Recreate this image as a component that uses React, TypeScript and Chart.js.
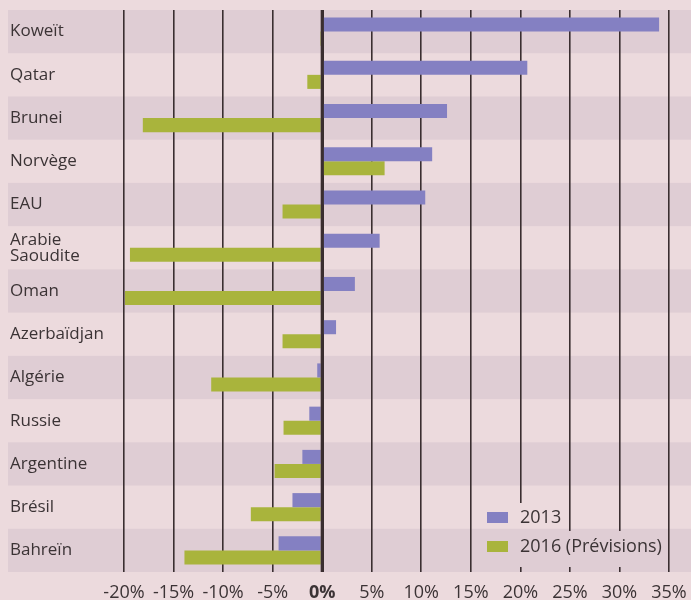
import React, { useEffect, useRef } from "react";
import { Chart, registerables } from "chart.js";

Chart.register(...registerables);

const categories: (string | string[])[] = [
  "Koweït",
  "Qatar",
  "Brunei",
  "Norvège",
  "EAU",
  ["Arabie", "Saoudite"],
  "Oman",
  "Azerbaïdjan",
  "Algérie",
  "Russie",
  "Argentine",
  "Brésil",
  "Bahreïn",
];

const values2013 = [34.0, 20.7, 12.6, 11.1, 10.4, 5.8, 3.3, 1.4, -0.5, -1.3, -2.0, -3.0, -4.4];
const values2016 = [-0.2, -1.5, -18.1, 6.3, -4.0, -19.4, -19.9, -4.0, -11.2, -3.9, -4.8, -7.2, -13.9];

const seriesLabels = ["2013", "2016 (Prévisions)"];
const xTickMin = -20;
const xTickMax = 35;
const xTickStep = 5;

const COLORS = {
  bg: "#ecdadd",
  band: "#dfcdd4",
  blue: "#8480c2",
  green: "#a9b43c",
  grid: "#3a2e30",
  text: "#3b3335",
};
const FONT = "'Open Sans', 'Noto Sans', sans-serif";

function drawBands(chart: any, ctx: CanvasRenderingContext2D) {
  const { chartArea } = chart;
  const n = categories.length;
  const rowH = (chartArea.bottom - chartArea.top) / n;
  for (let i = 0; i < n; i += 2) {
    const y0 = chartArea.top + i * rowH;
    ctx.fillStyle = COLORS.band;
    ctx.fillRect(8, y0, chart.width - 8, rowH);
  }
}

const bandsPlugin = {
  id: "bands",
  beforeDraw(chart: any) {
    const ctx = chart.ctx as CanvasRenderingContext2D;
    ctx.save();
    ctx.fillStyle = COLORS.bg;
    ctx.fillRect(0, 0, chart.width, chart.height);
    drawBands(chart, ctx);
    ctx.restore();
  },
};

const zeroLinePlugin = {
  id: "zeroLine",
  afterDatasetsDraw(chart: any) {
    const ctx = chart.ctx as CanvasRenderingContext2D;
    const x = chart.scales.x.getPixelForValue(0);
    const { top, bottom } = chart.chartArea;
    ctx.save();
    ctx.strokeStyle = COLORS.grid;
    ctx.lineWidth = 3;
    ctx.beginPath();
    ctx.moveTo(x, top);
    ctx.lineTo(x, bottom);
    ctx.stroke();
    ctx.restore();
  },
};

const legendPlugin = {
  id: "customLegend",
  afterDraw(chart: any) {
    const ctx = chart.ctx as CanvasRenderingContext2D;
    const { right, bottom } = chart.chartArea;
    const boxX = right - 182;
    const textX = right - 149;
    const items = [
      { label: chart.data.datasets[0].label, color: chart.data.datasets[0].backgroundColor, cy: bottom - 54, patch: [right - 189, bottom - 69, 83, 28] },
      { label: chart.data.datasets[1].label, color: chart.data.datasets[1].backgroundColor, cy: bottom - 25, patch: [right - 189, bottom - 41, 184, 36] },
    ];
    ctx.save();
    ctx.beginPath();
    items.forEach((it) => ctx.rect(it.patch[0], it.patch[1], it.patch[2], it.patch[3]));
    ctx.clip();
    ctx.fillStyle = COLORS.bg;
    ctx.fillRect(0, 0, chart.width, chart.height);
    drawBands(chart, ctx);
    ctx.restore();

    ctx.save();
    ctx.font = `18px ${FONT}`;
    ctx.textBaseline = "middle";
    ctx.textAlign = "left";
    items.forEach((it) => {
      ctx.fillStyle = it.color;
      ctx.fillRect(boxX, it.cy - 6, 21, 11);
      ctx.fillStyle = COLORS.text;
      ctx.fillText(it.label, textX, it.cy);
    });
    ctx.restore();
  },
};

export default function App() {
  const canvasRef = useRef<HTMLCanvasElement | null>(null);

  useEffect(() => {
    document.body.style.margin = "0";
    const canvas = canvasRef.current;
    if (!canvas) return;
    const chart = new Chart(canvas, {
      type: "bar",
      data: {
        labels: categories,
        datasets: [
          { label: seriesLabels[0], data: values2013, backgroundColor: COLORS.blue, categoryPercentage: 0.65, barPercentage: 1.0 },
          { label: seriesLabels[1], data: values2016, backgroundColor: COLORS.green, categoryPercentage: 0.65, barPercentage: 1.0 },
        ],
      },
      options: {
        indexAxis: "y",
        animation: false,
        responsive: false,
        devicePixelRatio: 1,
        layout: { padding: { left: 10, top: 10, right: 22, bottom: 0 } },
        plugins: {
          legend: { display: false },
          tooltip: { enabled: false },
        },
        scales: {
          x: {
            type: "linear",
            min: xTickMin,
            max: xTickMax,
            afterFit: (scale: any) => {
              scale.height = 28;
              scale.paddingLeft = 0;
              scale.paddingRight = 0;
            },
            ticks: {
              stepSize: xTickStep,
              padding: 10,
              color: COLORS.text,
              font: (c: any) => ({
                family: FONT,
                size: 18,
                weight: c.tick && c.tick.value === 0 ? "bold" : "normal",
              }),
              callback: (v: any) => `${v}%`,
            },
            grid: {
              color: COLORS.grid,
              lineWidth: (c: any) => (c.tick && c.tick.value === 0 ? 3 : 1.6),
              drawTicks: false,
            },
            border: { display: false },
          },
          y: {
            type: "category",
            afterFit: (scale: any) => {
              scale.width = 114;
              scale.paddingTop = 0;
              scale.paddingBottom = 0;
            },
            ticks: {
              crossAlign: "far",
              color: COLORS.text,
              font: { family: FONT, size: 17, lineHeight: 0.95 },
              autoSkip: false,
            },
            grid: { display: false, drawTicks: false },
            border: { display: false },
          },
        },
      },
      plugins: [bandsPlugin, zeroLinePlugin, legendPlugin],
    } as any);
    return () => chart.destroy();
  }, []);

  return (
    <div style={{ width: 691, height: 600 }}>
      <canvas ref={canvasRef} width={691} height={600} style={{ display: "block" }} />
    </div>
  );
}
